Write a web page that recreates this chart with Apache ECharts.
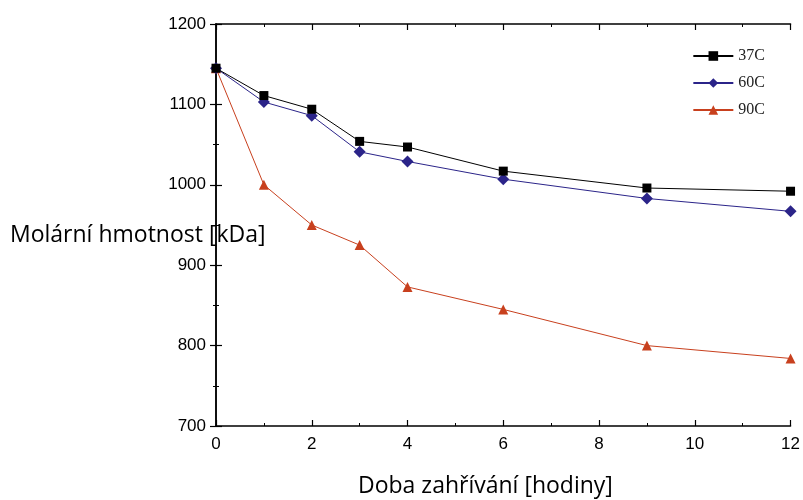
<!DOCTYPE html>
<html>
<head>
<meta charset="utf-8">
<script src="https://cdn.jsdelivr.net/npm/echarts@6/dist/echarts.min.js"></script>
<style>html,body{margin:0;padding:0;background:#fff}#main{width:803px;height:500px}</style>
</head>
<body>
<div id="main"></div>
<script>
var chart = echarts.init(document.getElementById('main'));

// hodiny
var hours = [0, 1, 2, 3, 4, 6, 9, 12];
var s37 = [1145, 1111, 1094, 1054, 1047, 1017, 996, 992];
var s60 = [1145, 1103, 1086, 1041, 1029, 1007, 983, 967];
var s90 = [1145, 1000, 950, 925, 873, 845, 800, 784];
var names = ['37C', '60C', '90C'];
var colors = ['#000000', '#2b2489', '#c8401e'];
var symbols = ['rect', 'diamond', 'triangle'];
var sizes = [9, 12, 10];

function pairs(ys) {
    return hours.map(function (h, i) { return [h, ys[i]]; });
}

var axisLine = { lineStyle: { color: '#000', width: 1.5 } };
var ticks = { inside: true, length: 6, lineStyle: { color: '#000', width: 1.2 } };
var minor = { show: true, splitNumber: 2, length: 3, lineStyle: { color: '#000', width: 1 } };
var labelStyle = { fontFamily: 'Liberation Sans', fontSize: 17, color: '#000', margin: 10 };

var option = {
    backgroundColor: '#fff',
    animation: false,
    grid: { left: 216, right: 11, top: 24, bottom: 74 },
    legend: {
        data: names,
        orient: 'vertical',
        right: 33,
        top: 43,
        itemWidth: 40,
        itemHeight: 12,
        itemGap: 11,
        textStyle: { fontFamily: 'Liberation Serif', fontSize: 16, color: '#222' }
    },
    xAxis: [{
        type: 'value', min: 0, max: 12, interval: 2,
        axisLine: axisLine, axisTick: ticks, minorTick: minor,
        splitLine: { show: false },
        axisLabel: labelStyle
    }, {
        type: 'value', position: 'top', min: 0, max: 12, interval: 2,
        axisLine: axisLine, axisTick: ticks, minorTick: minor,
        splitLine: { show: false }, axisLabel: { show: false }
    }],
    yAxis: [{
        type: 'value', min: 700, max: 1200, interval: 100,
        axisLine: axisLine, axisTick: ticks, minorTick: minor,
        splitLine: { show: false },
        axisLabel: Object.assign({ formatter: function (v) { return String(v); } }, labelStyle)
    }, {
        type: 'value', position: 'right', min: 700, max: 1200, interval: 100,
        axisLine: axisLine, axisTick: ticks, minorTick: minor,
        splitLine: { show: false }, axisLabel: { show: false }
    }],
    graphic: [{
        type: 'text', left: 10, top: 224,
        style: { text: 'Molární hmotnost [kDa]', font: '23px "Open Sans"', fill: '#000' }
    }, {
        type: 'text', left: 358, top: 475,
        style: { text: 'Doba zahřívání [hodiny]', font: '23px "Open Sans"', fill: '#000' }
    }],
    series: [s37, s60, s90].map(function (ys, i) {
        return {
            name: names[i],
            type: 'line',
            data: pairs(ys),
            symbol: symbols[i],
            symbolSize: sizes[i],
            showAllSymbol: true,
            clip: false,
            lineStyle: { color: colors[i], width: 1 },
            itemStyle: { color: colors[i] },
            z: 3 - i
        };
    })
};
chart.setOption(option);
</script>
</body>
</html>
